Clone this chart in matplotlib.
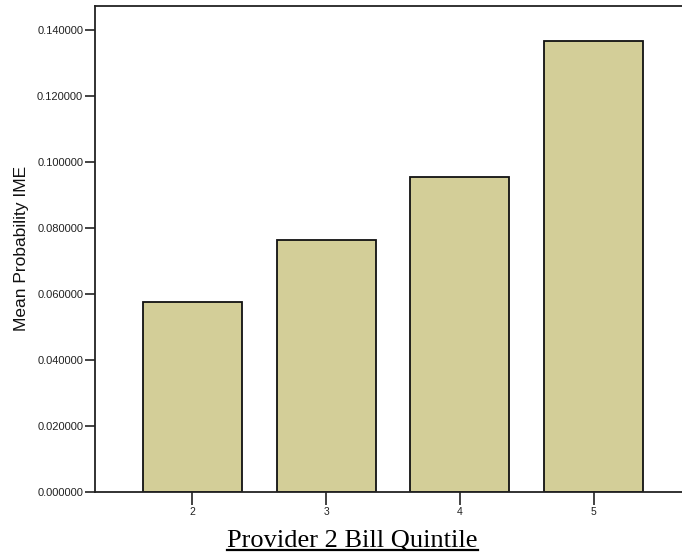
import matplotlib
matplotlib.use("Agg")
import matplotlib.pyplot as plt
from matplotlib.lines import Line2D

# Bar chart data
quintiles = [2, 3, 4, 5]
mean_prob = [0.0576, 0.0764, 0.0955, 0.1367]
y_ticks = [0.0, 0.02, 0.04, 0.06, 0.08, 0.10, 0.12, 0.14]

fig = plt.figure(figsize=(6.82, 5.56), dpi=100)
ax = fig.add_axes([0.1393, 0.1151, 0.8607, 0.8750])

ax.bar(quintiles, mean_prob, width=0.74, color="#d3ce98",
       edgecolor="#111111", linewidth=1.3, zorder=2)

ax.set_xlim(1.272, 5.66)
ax.set_ylim(0, 0.1474)
ax.set_xticks(quintiles)
ax.set_xticklabels([str(q) for q in quintiles], fontsize=7.5, family="Liberation Sans")
ax.set_yticks(y_ticks)
ax.set_yticklabels(["%.6f" % v for v in y_ticks], fontsize=8, family="Liberation Sans")
ax.tick_params(axis="y", length=7, width=1.2, pad=1.5, colors="#222222")
ax.tick_params(axis="x", length=9, width=1.2, pad=2, colors="#222222")

for side in ["left", "bottom", "top"]:
    ax.spines[side].set_linewidth(1.3)
    ax.spines[side].set_color("#222222")
ax.spines["right"].set_visible(False)

fig.text(0.0315, 0.553, "Mean Probability IME", rotation=90, fontsize=12.5,
         family="Liberation Sans", ha="center", va="center", color="#111111")

# underlined x title in serif font
base_y = 0.0165
xt = fig.text(0.517, base_y, "Provider 2 Bill Quintile", fontsize=19,
              family="Liberation Serif", ha="center", va="baseline")
fig.canvas.draw()
bb = xt.get_window_extent().transformed(fig.transFigure.inverted())
uy = base_y - 0.0055
fig.add_artist(Line2D([bb.x0, bb.x1], [uy, uy], transform=fig.transFigure,
                      color="black", linewidth=1.6))

fig.savefig("out.png", dpi=100)
